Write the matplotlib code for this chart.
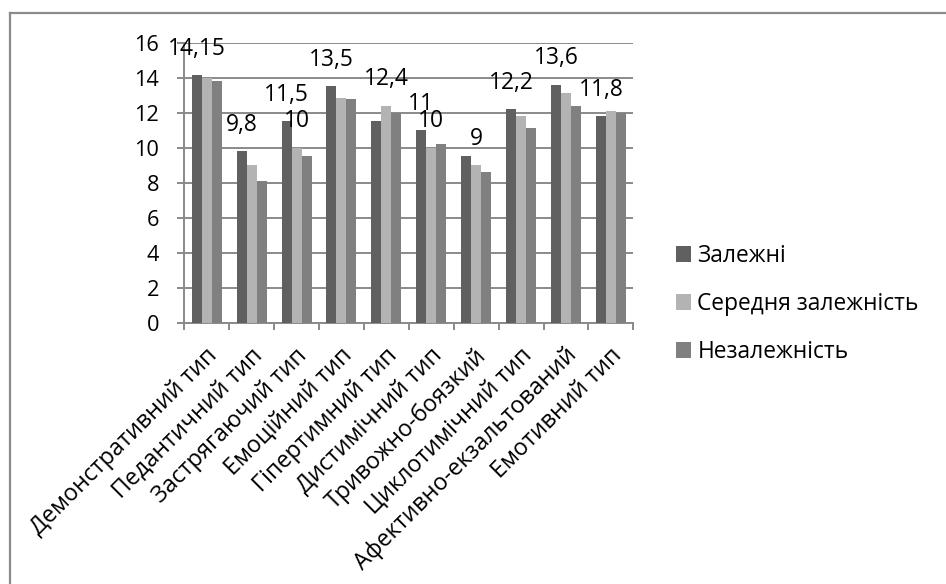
import matplotlib
matplotlib.use("Agg")
import matplotlib.pyplot as plt
from matplotlib.lines import Line2D
from matplotlib.patches import Patch
import numpy as np

categories = [
    "Демонстративний тип", "Педантичний тип", "Застрягаючий тип",
    "Емоційний тип", "Гіпертимний тип", "Дистимічний тип",
    "Тривожно-боязкий", "Циклотимічний тип", "Афективно-екзальтований",
    "Емотивний тип",
]
series_names = ["Залежні", "Середня залежність", "Незалежність"]
dependent = [14.15, 9.8, 11.5, 13.5, 11.5, 11.0, 9.5, 12.2, 13.6, 11.8]
medium = [14.0, 9.0, 10.0, 12.85, 12.4, 10.0, 9.0, 11.8, 13.1, 12.1]
independent = [13.8, 8.1, 9.5, 12.8, 12.0, 10.2, 8.6, 11.1, 12.4, 12.0]
# (category index, series index) of the bars that carry a value label
labelled_bars = [(0, 0), (1, 0), (2, 0), (2, 1), (3, 0), (4, 1),
                 (5, 0), (5, 1), (6, 1), (7, 0), (8, 0), (9, 0)]
y_ticks = [0, 2, 4, 6, 8, 10, 12, 14, 16]

colors = ["#606060", "#b3b3b3", "#808080"]
grid_col = "#8a8a8a"
plt.rcParams["font.family"] = ["Open Sans", "DejaVu Sans"]

fig = plt.figure(figsize=(9.46, 5.84), dpi=100)
renderer = fig.canvas.get_renderer()


def size_for(text, width_px, base=14.0):
    """Font size (pt) at which `text` spans `width_px` pixels."""
    t = fig.text(0, 0, text, fontsize=base)
    w = t.get_window_extent(renderer).width
    t.remove()
    return base * width_px / w


fs_tick = size_for("16", 25)
fs_value = size_for("14,15", 58)
fs_legend = size_for("Середня залежність", 222)
fs_cat = size_for("Демонстративний тип", 255)

ax = fig.add_axes([184.3 / 946, 1 - 322.7 / 584, 449 / 946, 280 / 584])

values = [dependent, medium, independent]
x = np.arange(len(categories))
bw = 0.222
for i, (vals, col, name) in enumerate(zip(values, colors, series_names)):
    ax.bar(x + (i - 1) * bw, vals, width=bw, color=col, label=name,
           linewidth=0, zorder=3)

for ci, si in labelled_bars:
    v = values[si][ci]
    txt = f"{v:g}".replace(".", ",")
    ax.annotate(txt, (x[ci] + (si - 1) * bw, v), xytext=(0, 19),
                textcoords="offset points", ha="center", va="center",
                fontsize=fs_value, color="black", zorder=5)

ax.set_xlim(-0.5, len(categories) - 0.5)
ax.set_ylim(0, 16)
ax.set_yticks(y_ticks)
ax.set_yticklabels([str(t) for t in y_ticks], fontsize=fs_tick)
ax.yaxis.grid(True, color=grid_col, linewidth=1.4, zorder=0)
ax.set_axisbelow(True)
for s in ["top", "right"]:
    ax.spines[s].set_visible(False)
for s in ["left", "bottom"]:
    ax.spines[s].set_color(grid_col)
    ax.spines[s].set_linewidth(1.4)
ax.tick_params(axis="y", length=5, width=1.4, color=grid_col, pad=13)

# category boundary ticks on the x axis
ax.set_xticks(np.arange(-0.5, len(categories) + 0.5, 1.0))
ax.set_xticklabels([])
ax.tick_params(axis="x", length=5, width=1.4, color=grid_col)
for xi, name in zip(x, categories):
    ax.annotate(name, (xi, 0), xytext=(-1, -15), textcoords="offset points",
                rotation=45, rotation_mode="anchor", ha="right", va="top",
                fontsize=fs_cat, color="black", annotation_clip=False)

handles = [Patch(facecolor=c, edgecolor="none") for c in colors]
sq = 10.8  # legend swatch size in points
fig.legend(handles, series_names, loc="center left",
           bbox_to_anchor=(676 / 946, 1 - 304 / 584), frameon=False,
           fontsize=fs_legend, handlelength=sq / fs_legend,
           handleheight=sq / fs_legend, handletextpad=4.5 / fs_legend,
           labelspacing=39.6 / fs_legend - 1.36, borderpad=0,
           borderaxespad=0)

# outer chart border
fig.add_artist(Line2D([9.5 / 946, 9.5 / 946], [0, 1 - 13 / 584],
                      transform=fig.transFigure, color=grid_col, lw=1.6))
fig.add_artist(Line2D([9.5 / 946, 1], [1 - 13 / 584, 1 - 13 / 584],
                      transform=fig.transFigure, color=grid_col, lw=1.6))

fig.savefig("out.png", dpi=100, facecolor="white")
